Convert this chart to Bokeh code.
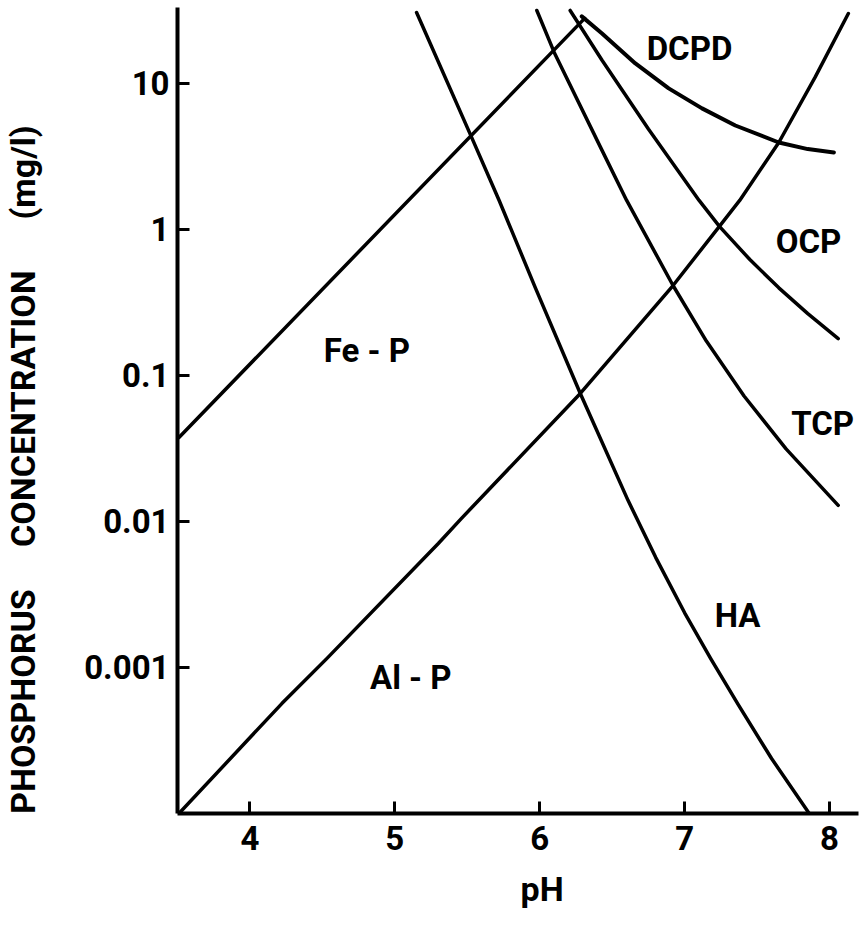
from bokeh.plotting import figure
from bokeh.models import Range1d, FixedTicker, CustomJSTickFormatter, Title, ColumnDataSource
from bokeh.core.properties import value
from bokeh.embed import file_html
from bokeh.resources import INLINE

# ---- data (pH vs phosphorus concentration, mg/l) ----
fep_ph = [3.51, 6.31]
fep_c = [0.0376, 27.9]

alp_ph = [3.51, 4.22, 4.53, 5.30, 5.46, 6.28, 6.92, 7.24, 7.38, 7.65, 7.90, 8.13]
alp_c = [0.0001, 0.000566, 0.00115, 0.00706, 0.0105, 0.0753, 0.413, 1.05, 1.58, 3.94, 11.0, 30.1]

ha_ph = [5.15, 5.53, 5.72, 5.97, 6.28, 6.61, 6.80, 7.00, 7.18, 7.37, 7.60, 7.86]
ha_c = [30.6, 4.27, 1.58, 0.398, 0.0753, 0.0139, 0.00568, 0.00237, 0.00115, 0.000556, 0.000238, 0.0001]

tcp_ph = [5.98, 6.10, 6.43, 6.60, 6.92, 7.15, 7.41, 7.70, 8.06]
tcp_c = [31.6, 16.3, 3.48, 1.58, 0.413, 0.172, 0.0723, 0.0314, 0.0129]

ocp_ph = [6.21, 6.43, 6.75, 7.10, 7.24, 7.45, 7.65, 7.85, 8.06]
ocp_c = [31.6, 14.4, 4.88, 1.58, 1.05, 0.622, 0.398, 0.265, 0.179]

dcpd_ph = [6.29, 6.43, 6.66, 6.89, 7.12, 7.35, 7.65, 7.85, 8.03]
dcpd_c = [28.8, 22.0, 13.7, 9.25, 6.75, 5.15, 3.94, 3.55, 3.37]

label_text = ["DCPD", "OCP", "TCP", "HA", "Fe - P", "Al - P"]
label_ph = [7.034, 7.855, 7.952, 7.366, 4.807, 5.110]
label_c = [17.4, 0.828, 0.0469, 0.00227, 0.148, 0.000855]

x_ticks = [4, 5, 6, 7, 8]
y_ticks = [0.001, 0.01, 0.1, 1, 10]

FONT = "Roboto"
STYLE = "bold"

p = figure(width=861, height=935,
           x_range=Range1d(3.5, 8.2), y_range=Range1d(1e-4, 10 ** 1.52),
           y_axis_type="log", output_backend="svg", toolbar_location=None,
           min_border_left=177, min_border_right=3, min_border_top=7, min_border_bottom=122,
           background_fill_color="white", border_fill_color="white")
p.outline_line_color = None
p.xgrid.visible = False
p.ygrid.visible = False

for xs, ys, w in [(fep_ph, fep_c, 3.5), (alp_ph, alp_c, 3.5), (ha_ph, ha_c, 3.5),
                  (tcp_ph, tcp_c, 3.5), (ocp_ph, ocp_c, 3.5), (dcpd_ph, dcpd_c, 4)]:
    p.line(xs, ys, line_color="black", line_width=w, line_cap="round", line_join="round")

src = ColumnDataSource(dict(x=label_ph, y=label_c, t=label_text))
p.text(x="x", y="y", text="t", source=src, text_font=value(FONT), text_font_size="33px",
       text_font_style=STYLE, text_align="center", text_baseline="middle", text_color="black")

for ax in (p.xaxis[0], p.yaxis[0]):
    ax.axis_line_width = 4
    ax.axis_line_color = "black"
    ax.major_tick_line_width = 3
    ax.major_tick_in = 12
    ax.major_tick_out = 0
    ax.minor_tick_line_color = None
    ax.major_label_text_font = FONT
    ax.major_label_text_font_size = "33px"
    ax.major_label_text_font_style = STYLE
    ax.major_label_text_color = "black"

p.xaxis.ticker = FixedTicker(ticks=x_ticks)
p.xaxis.major_label_standoff = 12
p.yaxis.ticker = FixedTicker(ticks=y_ticks)
p.yaxis.major_label_standoff = 8
p.yaxis.formatter = CustomJSTickFormatter(code="return tick >= 1 ? tick.toFixed(0) : tick.toPrecision(1);")

nb = "\u00a0"
p.yaxis.axis_label = "PHOSPHORUS" + nb * 5 + "CONCENTRATION" + nb * 6 + "(mg/l)" + nb * 14
p.yaxis.axis_label_standoff = 38
p.yaxis.axis_label_text_font = FONT
p.yaxis.axis_label_text_font_size = "34px"
p.yaxis.axis_label_text_font_style = STYLE
p.yaxis.axis_label_text_color = "black"

xtitle = Title(text="pH", align="left", offset=343, standoff=28,
               text_font=FONT, text_font_size="34px", text_font_style=STYLE,
               text_color="black")
p.add_layout(xtitle, "below")

open("out.html", "w").write(file_html(p, INLINE))
